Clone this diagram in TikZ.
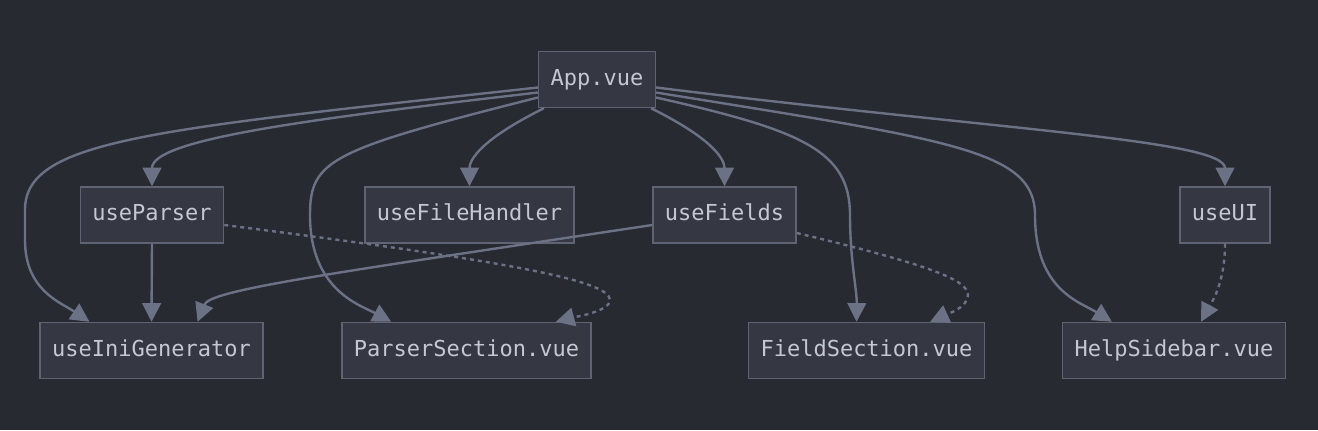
\documentclass[tikz,border=0pt]{standalone}
\usepackage{fontspec}
\setmonofont{DejaVu Sans Mono}
\usetikzlibrary{arrows.meta, calc}
\definecolor{canvas}{RGB}{40, 42, 50}
\definecolor{boxfill}{RGB}{53, 55, 66}
\definecolor{boxline}{RGB}{95, 99, 116}
\definecolor{edge}{RGB}{108, 114, 134}
\definecolor{label}{RGB}{196, 200, 210}

\begin{document}
\begin{tikzpicture}[
        x=0.75pt, y=-0.75pt,
        mod/.style={rectangle, draw=boxline, line width=1.1pt, fill=boxfill,
                    minimum height=42pt, inner xsep=9pt,
                    text height=12pt, text depth=3.5pt, text=label,
                    font=\ttfamily\fontsize{16.5}{20}\selectfont},
        arrow/.style={-{Triangle[length=14pt, width=14pt]}, line width=1.8pt, draw=edge},
        weak/.style={arrow, dash pattern=on 3pt off 3pt},
    ]
        % background / bounding box
        \fill[canvas] (0,0) rectangle (1318,430);
        \useasboundingbox (0,0) rectangle (1318,430);

        % ===== modules =====
        \node[mod] (app) at (597,79.5) {App.vue};

        \node[mod] (parser) at (152,215) {useParser};
        \node[mod] (filehandler) at (469.5,215) {useFileHandler};
        \node[mod] (fields) at (724.5,215) {useFields};
        \node[mod] (ui) at (1225,215) {useUI};

        \node[mod] (inigen) at (151.5,350.5) {useIniGenerator};
        \node[mod] (parsersec) at (466.5,350.5) {ParserSection.vue};
        \node[mod] (fieldsec) at (866.5,350.5) {FieldSection.vue};
        \node[mod] (helpbar) at (1174,350.5) {HelpSidebar.vue};

        % ===== App.vue imports =====
        \draw[arrow] ($(app.west)+(0,8)$) .. controls (150,130) and (25,140) .. (25,210)
            -- (25,240) .. controls (25,290) and (60,302) .. ($(inigen.north west)+(50,0)$);
        \draw[arrow] ($(app.west)+(0,13)$) .. controls (300,120) and (152,140) .. (parser.north);
        \draw[arrow] ($(app.west)+(0,18)$) .. controls (330,150) and (310,160) .. (310,215)
            .. controls (310,290) and (360,305) .. ($(parsersec.north west)+(50,0)$);
        \draw[arrow] ($(app.south west)+(6,0)$) .. controls (480,140) and (469.5,160) .. (filehandler.north);
        \draw[arrow] ($(app.south east)+(-5,0)$) .. controls (715,140) and (724.5,160) .. (fields.north);
        \draw[arrow] ($(app.east)+(0,18)$) .. controls (800,130) and (850,150) .. (850,215)
            .. controls (850,260) and (857,290) .. ($(fieldsec.north)+(-10,0)$);
        \draw[arrow] ($(app.east)+(0,13)$) .. controls (950,140) and (1035,150) .. (1035,215)
            .. controls (1035,290) and (1080,302) .. ($(helpbar.north west)+(50,0)$);
        \draw[arrow] ($(app.east)+(0,8)$) .. controls (1000,130) and (1225,140) .. (ui.north);

        % ===== composables =====
        \draw[arrow] (parser.south) -- (inigen.north);
        \draw[arrow] ($(fields.west)+(0,10)$) .. controls (320,275) and (210,290) .. ($(inigen.north east)+(-66,0)$);

        % ===== used by sections (dashed) =====
        \draw[weak] ($(parser.east)+(0,10)$) .. controls (500,260) and (610,280) .. (610,300)
            .. controls (610,312) and (570,318) .. ($(parsersec.north east)+(-36,0)$);
        \draw[weak] ($(fields.east)+(0,18)$) .. controls (930,265) and (968,280) .. (968,295)
            .. controls (968,308) and (945,315) .. ($(fieldsec.north east)+(-55,0)$);
        \draw[weak] (ui.south) .. controls (1225,285) and (1210,305) .. ($(helpbar.north east)+(-85,0)$);

    \end{tikzpicture}
\end{document}
